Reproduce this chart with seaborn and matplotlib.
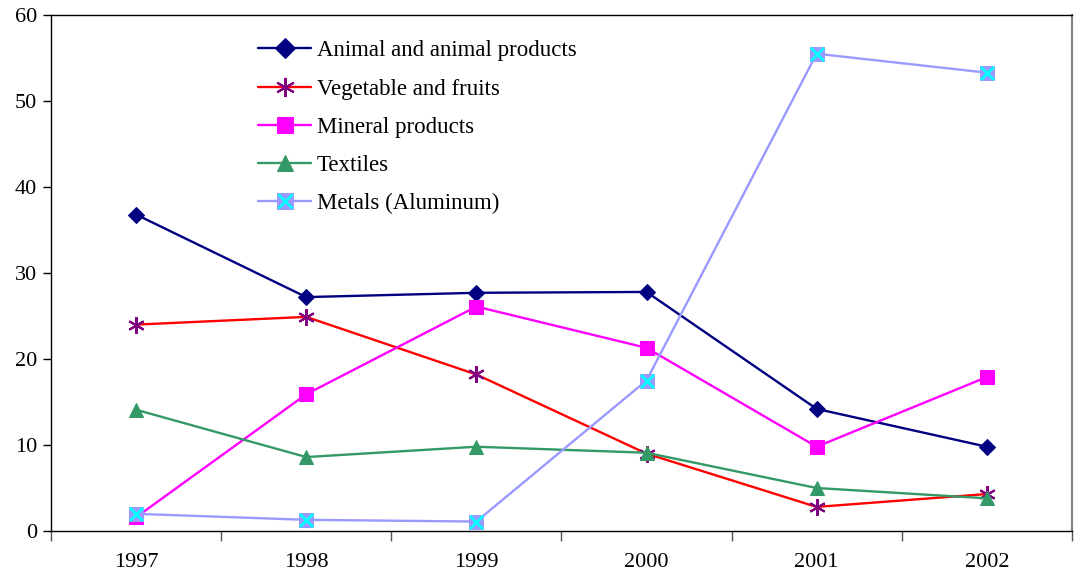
import matplotlib.pyplot as plt
import pandas as pd
import seaborn as sns
from matplotlib.legend_handler import HandlerTuple
from matplotlib.ticker import FixedLocator

years = ['1997', '1998', '1999', '2000', '2001', '2002']
animal = [36.8, 27.2, 27.7, 27.8, 14.2, 9.8]
vegetable = [24.0, 24.9, 18.2, 9.0, 2.8, 4.3]
mineral = [1.6, 15.9, 26.1, 21.3, 9.8, 17.9]
textiles = [14.1, 8.6, 9.8, 9.1, 5.0, 3.8]
metals = [2.0, 1.3, 1.1, 17.5, 55.5, 53.3]

series_names = ['Animal and animal products', 'Vegetable and fruits', 'Mineral products',
                'Textiles', 'Metals (Aluminum)']

df = pd.DataFrame({'Year': years * 5,
                   'Value': animal + vegetable + mineral + textiles + metals,
                   'Series': [n for n in series_names for _ in years]})

sns.set_style('white')
plt.rcParams['font.family'] = ['Liberation Serif', 'DejaVu Serif']
plt.rcParams['text.color'] = 'black'
plt.rcParams['xtick.color'] = 'black'
plt.rcParams['ytick.color'] = 'black'

fig = plt.figure(figsize=(10.74, 5.78), dpi=100)
ax = fig.add_axes([0.0475, 0.0813, 0.9505, 0.8927])

styles = {
    'Animal and animal products': dict(color='#000080', marker='D', markersize=8.5,
                                       markerfacecolor='#000080', markeredgecolor='#000080'),
    'Vegetable and fruits': dict(color='#FF0000', marker=(6, 2, 0), markersize=12,
                                 markerfacecolor='#800080', markeredgecolor='#800080', markeredgewidth=1.5),
    'Mineral products': dict(color='#FF00FF', marker='s', markersize=10,
                             markerfacecolor='#FF00FF', markeredgecolor='#FF00FF'),
    'Textiles': dict(color='#339966', marker='^', markersize=10,
                     markerfacecolor='#339966', markeredgecolor='#339966'),
    'Metals (Aluminum)': dict(color='#9999FF', marker='s', markersize=10,
                              markerfacecolor='#9999FF', markeredgecolor='#9999FF'),
}

handles = []
for name in series_names:
    sub = df[df['Series'] == name]
    sns.lineplot(data=sub, x='Year', y='Value', ax=ax, linewidth=1.7, label=name,
                 legend=False, **styles[name])
    line = ax.lines[-1]
    if name == 'Metals (Aluminum)':
        sns.scatterplot(data=sub, x='Year', y='Value', ax=ax, marker='x', color='#00FFFF',
                        s=90, linewidth=2, legend=False, zorder=5)
        xmark = plt.Line2D([], [], linestyle='none', marker='x', color='#00FFFF',
                           markersize=9, markeredgewidth=2)
        handles.append((line, xmark))
    else:
        handles.append(line)

ax.set_xlim(-0.5, 5.5)
ax.set_ylim(0, 60)
ax.set_yticks(range(0, 61, 10))
ax.set_xlabel('')
ax.set_ylabel('')

ax.xaxis.set_minor_locator(FixedLocator([i - 0.5 for i in range(7)]))
ax.tick_params(axis='x', which='major', length=0, labelsize=16, pad=16, labelcolor='black')
ax.tick_params(axis='x', which='minor', length=7, width=1, color='#555555', direction='out', bottom=True)
ax.tick_params(axis='y', which='major', length=6, width=1, color='black', direction='out', left=True,
               labelsize=16, pad=4, labelcolor='black')

for side in ['left', 'bottom', 'top']:
    ax.spines[side].set_color('black')
    ax.spines[side].set_linewidth(1.0)
ax.spines['right'].set_color('#808080')
ax.spines['right'].set_linewidth(1.5)

ax.legend(handles, series_names, loc='upper left', bbox_to_anchor=(0.183, 0.991), frameon=False,
          fontsize=16.5, handlelength=2.3, handletextpad=0.25, labelspacing=0.75, markerscale=1.15,
          labelcolor='black', handler_map={tuple: HandlerTuple(ndivide=1, pad=0)})

fig.savefig('out.png', dpi=100)
